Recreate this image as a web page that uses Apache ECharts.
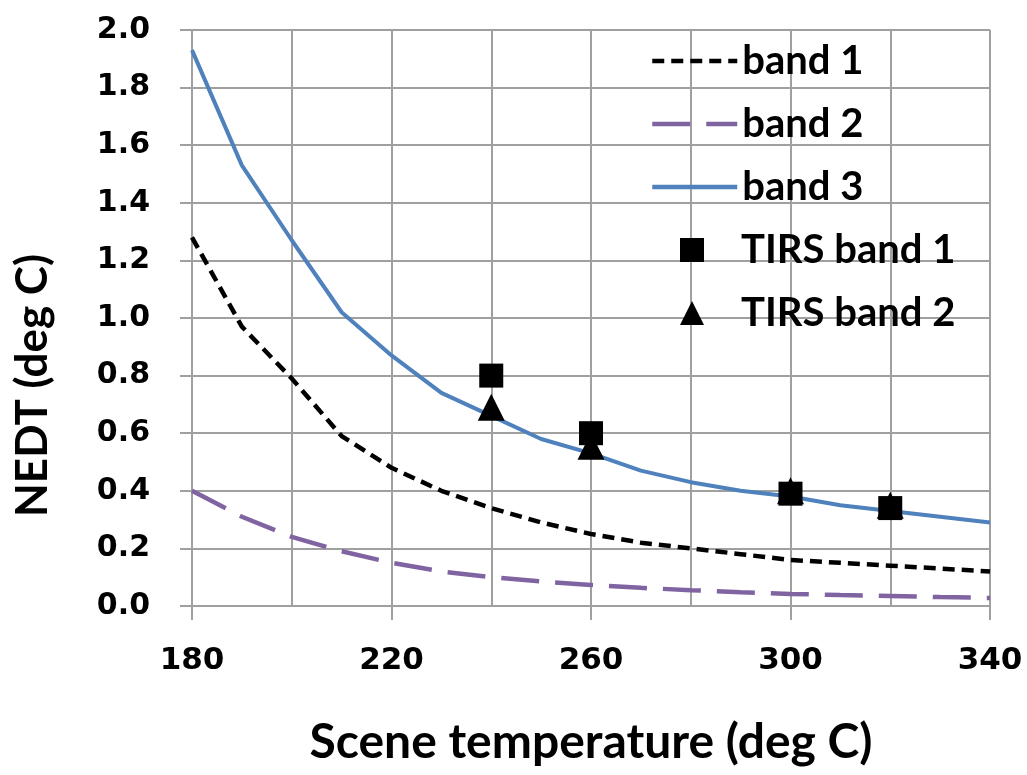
<!DOCTYPE html>
<html>
<head>
<meta charset="utf-8">
<script src="https://cdn.jsdelivr.net/npm/echarts@6/dist/echarts.min.js"></script>
<style>
  html, body { margin: 0; padding: 0; background: #fff; }
  #chart { width: 1027px; height: 775px; }
</style>
</head>
<body>
<div id="chart"></div>
<script>
  // scene temperature (deg C), one point every 10 degrees
  const temps = [180, 190, 200, 210, 220, 230, 240, 250, 260, 270, 280, 290, 300, 310, 320, 330, 340]
  const band1 = [1.28, 0.97, 0.79, 0.59, 0.48, 0.40, 0.34, 0.29, 0.25, 0.22, 0.20, 0.18, 0.16, 0.15, 0.14, 0.13, 0.12]
  const band2 = [0.40, 0.31, 0.24, 0.19, 0.15, 0.12, 0.10, 0.085, 0.073, 0.063, 0.055, 0.048, 0.042, 0.038, 0.035, 0.031, 0.028]
  const band3 = [1.93, 1.53, 1.27, 1.02, 0.87, 0.74, 0.66, 0.58, 0.53, 0.47, 0.43, 0.40, 0.38, 0.35, 0.33, 0.31, 0.29]

  // measured TIRS points
  const tirsTemps = [240, 260, 300, 320]
  const tirs1 = [0.80, 0.60, 0.39, 0.34]
  const tirs2 = [0.69, 0.555, 0.40, 0.35]

  const pair = (xs, ys) => xs.map((x, i) => [x, ys[i]])

  const gridColor = '#a0a0a0'
  const labelFont = 'DejaVu Sans'
  const titleFont = 'Lato'

  const legendText = {
    fontFamily: titleFont,
    fontWeight: 'bold',
    fontSize: 40,
    lineHeight: 40,
    color: '#000'
  }
  // hide the little circle that line legends draw in the middle
  const noDot = { opacity: 0 }

  const chart = echarts.init(document.getElementById('chart'))
  chart.setOption({
    animation: false,
    backgroundColor: '#fff',
    grid: {
      left: 192,
      right: 37,
      top: 30,
      bottom: 169
    },
    legend: [
      {
        orient: 'vertical',
        left: 650,
        top: 41,
        padding: 0,
        itemWidth: 85,
        itemHeight: 23,
        itemGap: 23,
        lineStyle: { width: 4.5 },
        textStyle: legendText,
        data: [
          { name: 'band 1', itemStyle: noDot },
          { name: 'band 2', itemStyle: noDot },
          { name: 'band 3', itemStyle: noDot }
        ]
      },
      {
        orient: 'vertical',
        left: 680,
        top: 230,
        padding: 0,
        itemWidth: 24,
        itemHeight: 24,
        itemGap: 23,
        textStyle: Object.assign({}, legendText, { padding: [0, 0, 0, 32] }),
        data: ['TIRS band 1', 'TIRS band 2']
      }
    ],
    xAxis: {
      type: 'value',
      min: 180,
      max: 340,
      interval: 40,
      minorTick: { show: false, splitNumber: 2 },
      minorSplitLine: { show: true, lineStyle: { color: gridColor, width: 2 } },
      splitLine: { show: true, lineStyle: { color: gridColor, width: 2 } },
      axisLine: { onZero: false, lineStyle: { color: gridColor, width: 2 } },
      axisTick: { show: true, length: 14, lineStyle: { color: gridColor, width: 2 } },
      axisLabel: {
        margin: 39,
        color: '#000',
        fontFamily: labelFont,
        fontWeight: 'bold',
        fontSize: 31
      },
      name: 'Scene temperature (deg C)',
      nameLocation: 'middle',
      nameGap: 113,
      nameTextStyle: {
        fontFamily: titleFont,
        fontWeight: 'bold',
        fontSize: 48,
        color: '#000'
      }
    },
    yAxis: {
      type: 'value',
      min: 0,
      max: 2,
      interval: 0.2,
      splitLine: { show: true, lineStyle: { color: gridColor, width: 2 } },
      axisLine: { show: true, lineStyle: { color: gridColor, width: 2 } },
      axisTick: { show: true, length: 12, lineStyle: { color: gridColor, width: 2 } },
      axisLabel: {
        margin: 42,
        color: '#000',
        fontFamily: labelFont,
        fontWeight: 'bold',
        fontSize: 30,
        formatter: v => v.toFixed(1)
      },
      name: 'NEDT (deg C)',
      nameLocation: 'middle',
      nameGap: 137,
      nameTextStyle: {
        fontFamily: titleFont,
        fontWeight: 'bold',
        fontSize: 44,
        color: '#000',
        padding: [0, 135, 0, 0]
      }
    },
    series: [
      {
        name: 'band 1',
        type: 'line',
        data: pair(temps, band1),
        showSymbol: false,
        symbol: 'none',
        color: '#000',
        lineStyle: { color: '#000', width: 4.5, type: [12, 7] }
      },
      {
        name: 'band 2',
        type: 'line',
        data: pair(temps, band2),
        showSymbol: false,
        symbol: 'none',
        color: '#8064a2',
        lineStyle: { color: '#8064a2', width: 4.5, type: [38, 16] }
      },
      {
        name: 'band 3',
        type: 'line',
        data: pair(temps, band3),
        showSymbol: false,
        symbol: 'none',
        color: '#4f81bd',
        lineStyle: { color: '#4f81bd', width: 4 }
      },
      {
        name: 'TIRS band 2',
        type: 'scatter',
        data: pair(tirsTemps, tirs2),
        symbol: 'triangle',
        symbolSize: 27,
        itemStyle: { color: '#000', opacity: 1 },
        z: 3
      },
      {
        name: 'TIRS band 1',
        type: 'scatter',
        data: pair(tirsTemps, tirs1),
        symbol: 'rect',
        symbolSize: 24,
        itemStyle: { color: '#000', opacity: 1 },
        z: 4
      }
    ]
  })
</script>
</body>
</html>
